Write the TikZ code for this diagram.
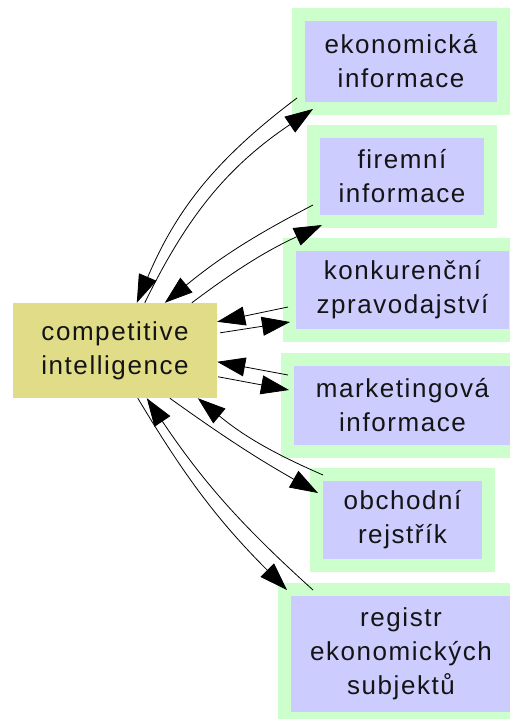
\documentclass[tikz,border=0pt]{standalone}
\usepackage{fontspec}
\newfontfamily\popis{Liberation Sans}[LetterSpace=6]
\usetikzlibrary{arrows.meta}

\definecolor{zelena}{HTML}{CCFFCC}
\definecolor{modra}{HTML}{CCCCFF}
\definecolor{zluta}{HTML}{E1DC87}

\begin{document}
\begin{tikzpicture}[x=1pt, y=-1pt,
  pismo/.style={font=\popis\fontsize{26}{34}\selectfont, text=black!92, align=center},
  zdroj/.style={pismo, fill=modra, draw=zelena, line width=13pt},
  jadro/.style={pismo, fill=zluta, minimum width=204pt, minimum height=95pt},
  sipka/.style={-{Triangle[length=28pt,width=19pt]}, line width=0.8pt}]

\useasboundingbox (0,0) rectangle (510,719);

% Uzly
\node[jadro] (ci) at (115,350.5) {competitive\\intelligence};

\node[zdroj, minimum width=205pt, minimum height=94pt] (eko) at (401,61.5) {ekonomická\\informace};
\node[zdroj, minimum width=177pt, minimum height=90pt] (fir) at (402,176.5) {firemní\\informace};
\node[zdroj, minimum width=226pt, minimum height=91pt] (kon) at (402.5,290) {konkurenční\\zpravodajství};
\node[zdroj, minimum width=230pt, minimum height=92pt] (mar) at (402.5,405.5) {marketingová\\informace};
\node[zdroj, minimum width=172pt, minimum height=91pt] (obc) at (402.5,520) {obchodní\\rejstřík};
\node[zdroj, minimum width=233pt, minimum height=129pt] (reg) at (401,654) {registr\\ekonomických\\subjektů};

% Sipky
\draw[sipka] ([shift={(5,-17)}]eko.south west) to[bend right=15] ([shift={(124,0)}]ci.north west);
\draw[sipka] ([shift={(132,0)}]ci.north west) to[bend left=15] ([shift={(21,-6)}]eko.south west);

\draw[sipka] ([shift={(6,-23)}]fir.south west) to[bend right=6] ([shift={(152,0)}]ci.north west);
\draw[sipka] ([shift={(179,0)}]ci.north west) to[bend left=6] ([shift={(15,-3)}]fir.south west);

\draw[sipka] ([shift={(5,69)}]kon.north west) -- ([shift={(0,19)}]ci.north east);
\draw[sipka] ([shift={(3,30)}]ci.north east) -- ([shift={(7,84)}]kon.north west);

\draw[sipka] ([shift={(7,22)}]mar.north west) -- ([shift={(0,59)}]ci.north east);
\draw[sipka] ([shift={(1,74)}]ci.north east) -- ([shift={(8,37)}]mar.north west);

\draw[sipka] ([shift={(13,7)}]obc.north west) to[bend left=8] ([shift={(185,0)}]ci.south west);
\draw[sipka] ([shift={(157,0)}]ci.south west) to[bend right=3] ([shift={(8,25)}]obc.north west);

\draw[sipka] ([shift={(35,7)}]reg.north west) to[bend left=7] ([shift={(134,0)}]ci.south west);
\draw[sipka] ([shift={(125,0)}]ci.south west) to[bend right=7] ([shift={(9,7)}]reg.north west);

\end{tikzpicture}
\end{document}
